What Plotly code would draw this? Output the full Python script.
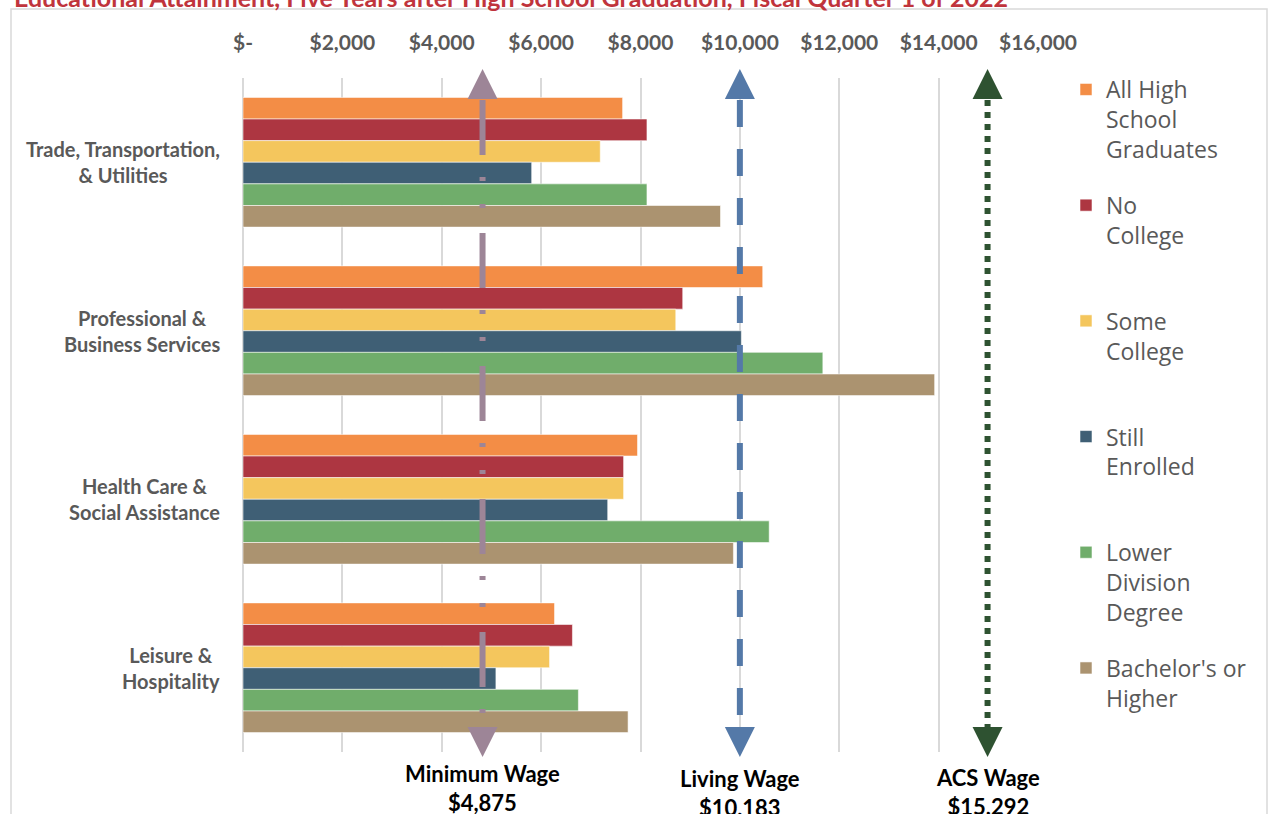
import plotly.graph_objects as go

# ---------------- data ----------------
categories = ["Trade, Transportation,<br>& Utilities",
              "Professional &<br>Business Services",
              "Health Care &<br>Social Assistance",
              "Leisure &<br>Hospitality"]

series_names = ["All High<br>School<br>Graduates", "No<br>College", "Some<br>College",
                "Still<br>Enrolled", "Lower<br>Division<br>Degree", "Bachelor's or<br>Higher"]

all_hs     = [7640, 10460, 7940, 6270]
no_college = [8130, 8850, 7660, 6630]
some_coll  = [7190, 8710, 7660, 6170]
still_enr  = [5810, 10030, 7340, 5090]
lower_div  = [8130, 11670, 10590, 6750]
bachelors  = [9610, 13920, 9870, 7750]

wage_names  = ["Minimum Wage", "Living Wage", "ACS Wage"]
wage_values = [4875, 10183, 15292]

tick_vals = [0, 2000, 4000, 6000, 8000, 10000, 12000, 14000, 16000]
tick_text = ["$-", "$2,000", "$4,000", "$6,000", "$8,000", "$10,000", "$12,000", "$14,000", "$16,000"]

title_text = "Educational Attainment, Five Years after High School Graduation, Fiscal Quarter 1 of 2022"

# ---------------- styles ----------------
bar_colors = ["#F38D46", "#AD3641", "#F4C65D", "#3F5F75", "#70AD6B", "#AB9370"]
wage_colors = ["#9D8597", "#5479A8", "#2E5231"]
wage_dash = ["55px,22px,4px,23px,4px,25px", "27px,22px", "6px,6px"]
wage_label_top = [758, 763, 762]

W, H = 1269, 814
L, R, T, B = 243, 231, 66, 52          # paper area: x 243..1038, y 66..762
PW, PH = W - L - R, H - T - B
PLOT_TOP, PLOT_BOT = 78, 752            # bar subplot pixel extent


def px(p):   # horizontal pixel -> paper
    return (p - L) / PW


def py(p):   # vertical pixel -> paper
    return (H - B - p) / PH


fig = go.Figure()
series = [all_hs, no_college, some_coll, still_enr, lower_div, bachelors]
idx = list(range(len(categories)))
for i, (name, vals) in enumerate(zip(series_names, series)):
    nlines = name.count("<br>") + 1
    label = name + "<br> " * (3 - nlines)
    fig.add_trace(go.Bar(
        y=idx, x=vals, orientation="h", name=label,
        marker=dict(color=bar_colors[i], line=dict(color="rgba(255,255,255,0.55)", width=1)),
        legendgroup=f"g{i}", hoverinfo="x+name",
    ))

# wage lines on a hidden full-height subplot
for i, (wn, wv) in enumerate(zip(wage_names, wage_values)):
    fig.add_trace(go.Scatter(
        x=[wv, wv], y=[py(100), py(727)], mode="lines", xaxis="x2", yaxis="y2",
        line=dict(color=wage_colors[i], width=6, dash=wage_dash[i]),
        showlegend=False, hoverinfo="skip",
    ))
    fig.add_trace(go.Scatter(
        x=[wv, wv], y=[py(69), py(757)], mode="markers",
        xaxis="x2", yaxis="y2", cliponaxis=False,
        marker=dict(symbol=["arrow-up", "arrow-down"], size=30, color=wage_colors[i],
                    line=dict(width=0)),
        showlegend=False, hoverinfo="skip",
    ))
    fig.add_annotation(
        x=wv, xref="x2", y=py(wage_label_top[i]), yref="paper", yanchor="top",
        xanchor="center", align="center", showarrow=False,
        text=f"<b>{wn}<br>${wv:,}</b>",
        font=dict(family="Lato", size=22, color="#000000"),
    )

# category labels (centered multi-line)
for i, c in enumerate(categories):
    fig.add_annotation(
        x=px(222), xref="paper", xanchor="right",
        y=i, yref="y", yanchor="middle", align="center", showarrow=False,
        text=f"<b>{c}</b>", font=dict(family="Lato", size=20, color="#595959"),
    )

# clipped title at top
fig.add_annotation(
    x=px(12), xref="paper", xanchor="left",
    y=py(-3), yref="paper", yanchor="middle", showarrow=False,
    text=f"<b>{title_text}</b>", font=dict(family="Lato", size=25, color="#C0343C"),
)

# chart border
fig.add_shape(type="rect", xref="paper", yref="paper",
              x0=px(11), x1=px(1267), y0=py(840), y1=py(9),
              line=dict(color="#D9D9D9", width=1.5), fillcolor="rgba(0,0,0,0)", layer="below")

x2_range = [(L - 246.2) / 0.04848, (W - R - 246.2) / 0.04848]

fig.update_layout(
    width=W, height=H,
    margin=dict(l=L, r=R, t=T, b=B),
    paper_bgcolor="white", plot_bgcolor="rgba(0,0,0,0)",
    barmode="group", bargap=0.23, bargroupgap=0,
    font=dict(family="Lato", color="#595959"),
    xaxis=dict(domain=[0, 1], anchor="y", range=[0, 16000], side="top",
               tickvals=tick_vals, ticktext=tick_text,
               showgrid=True, gridcolor="#D9D9D9", gridwidth=1.5,
               zeroline=True, zerolinecolor="#D9D9D9", zerolinewidth=1.5,
               showline=False, ticks="", ticklabelstandoff=23,
               tickfont=dict(family="Lato", size=21, color="#595959", weight="bold"),
               fixedrange=True),
    yaxis=dict(domain=[py(PLOT_BOT), py(PLOT_TOP)], anchor="x",
               range=[len(categories) - 0.5, -0.5], showticklabels=False, showgrid=False,
               zeroline=False, showline=False, ticks="", fixedrange=True),
    xaxis2=dict(domain=[0, 1], anchor="y2", range=x2_range, visible=False, fixedrange=True),
    yaxis2=dict(domain=[0, 1], anchor="x2", range=[0, 1], visible=False, fixedrange=True),
    legend=dict(x=px(1066), xanchor="left", y=py(68), yanchor="top",
                font=dict(family="Open Sans", size=23, color="#595959"),
                traceorder="grouped", tracegroupgap=23, valign="top",
                bgcolor="rgba(0,0,0,0)", itemclick=False, itemdoubleclick=False),
    showlegend=True,
)

fig.write_html("out.html", config={"displayModeBar": False},
               post_script="document.body.style.margin='0';")
